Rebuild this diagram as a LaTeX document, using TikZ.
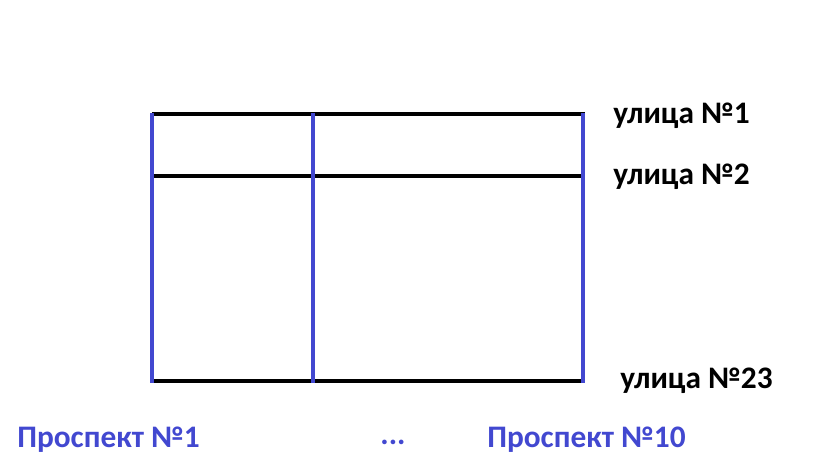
\documentclass[tikz,border=0pt]{standalone}
\usepackage{fontspec}
\setmainfont{Carlito}
\definecolor{avenue}{RGB}{66,72,208}
\begin{document}
\begin{tikzpicture}[x=0.75pt, y=-0.75pt,
  street/.style={line width=3.3pt, black},
  avenueline/.style={line width=3.3pt, avenue},
  label/.style={anchor=west, inner sep=0pt, font=\fontsize{23.5}{28}\selectfont\bfseries}]
  \useasboundingbox (0,0) rectangle (830,470);
  % Corners
  \coordinate (a1) at (152,113);
  \coordinate (a2) at (313,113);
  \coordinate (a3) at (583,113);
  \coordinate (b1) at (152,383);
  \coordinate (b2) at (313,383);
  \coordinate (b3) at (583,383);
  \coordinate (s1l) at (152,114);
  \coordinate (s1r) at (585,114);
  \coordinate (s2l) at (152,176);
  \coordinate (s2r) at (585,176);
  \coordinate (s3l) at (152,381);
  \coordinate (s3r) at (585,381);
  % Streets
  \draw[street] (s1l) -- (s1r);
  \draw[street] (s2l) -- (s2r);
  \draw[street] (s3l) -- (s3r);
  % Avenues
  \draw[avenueline] (a1) -- (b1);
  \draw[avenueline] (a2) -- (b2);
  \draw[avenueline] (a3) -- (b3);
  % Nodes
  \node (u1) [label] at (613,116) {улица №1};
  \node (u2) [label] at (613,177) {улица №2};
  \node (u23) [label] at (620,381) {улица №23};
  \node (p1) [label, text=avenue] at (17,440) {Проспект №1};
  \node (dots) [label, text=avenue, anchor=center] at (393,442) {...};
  \node (p10) [label, text=avenue] at (487,440) {Проспект №10};
\end{tikzpicture}
\end{document}
